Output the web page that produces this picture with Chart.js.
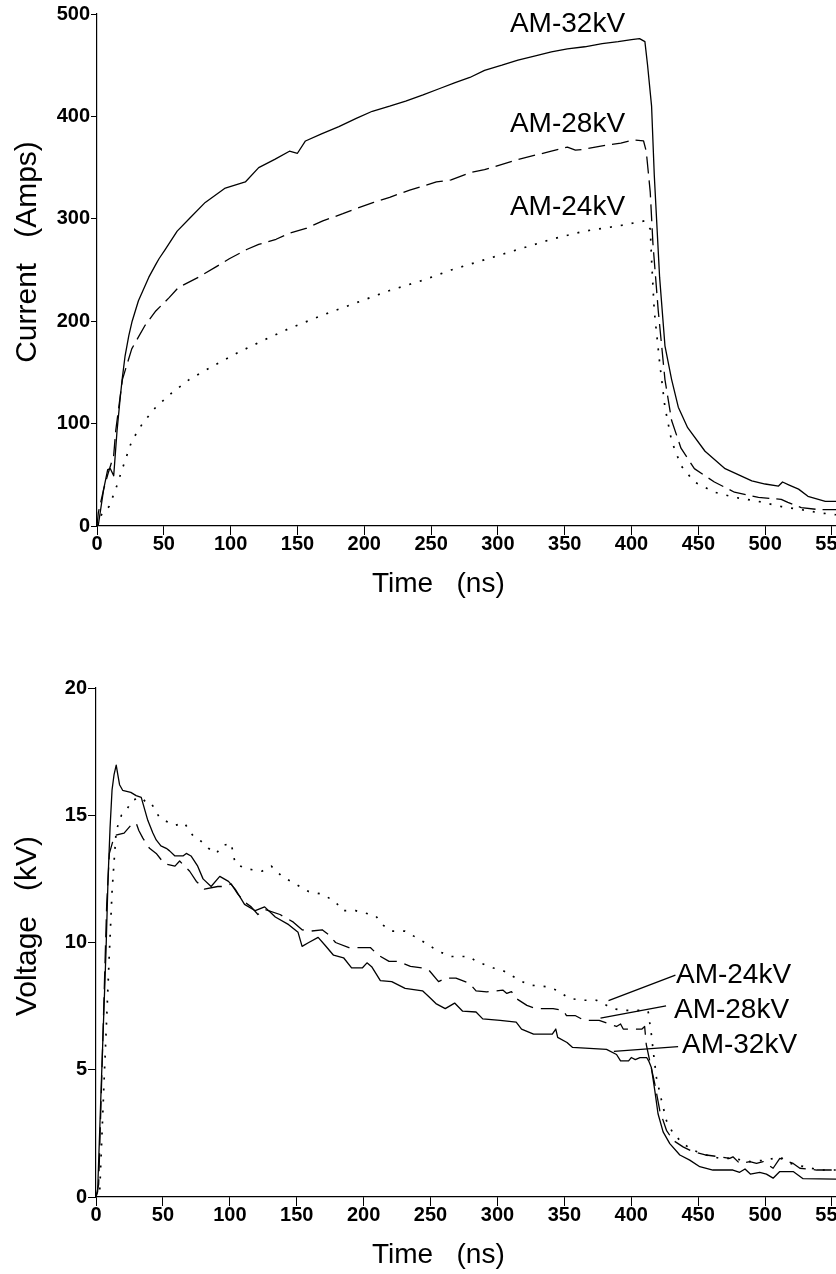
<!DOCTYPE html>
<html>
<head>
<meta charset="utf-8">
<script src="https://cdn.jsdelivr.net/npm/chart.js@4.4.1/dist/chart.umd.min.js"></script>
<style>
  html, body { margin: 0; padding: 0; background: #fff; }
  #wrap { position: relative; width: 836px; height: 1274px; overflow: hidden; background: #fff; }
  #c1 { position: absolute; left: 0; top: 0; }
  #c2 { position: absolute; left: 0; top: 640px; }
</style>
</head>
<body>
<div id="wrap">
  <canvas id="c1" width="836" height="620"></canvas>
  <canvas id="c2" width="836" height="634"></canvas>
</div>
<script>
// ---------- Top chart: Current (Amps) vs Time (ns) ----------
const seriesNames = ['AM-32kV', 'AM-28kV', 'AM-24kV'];

const t32 = [0, 1, 5, 8, 10, 12.5, 15, 17.5, 18.8, 21, 23.8, 26.3, 31, 38.8, 43.8, 46.4, 51, 60, 69, 81, 96, 111, 121, 133, 144, 150, 156, 168, 181, 194, 206, 219, 231, 244, 256, 268, 279, 290, 303, 315, 328, 340, 352, 365, 378, 390, 400, 406, 410, 412, 415, 417, 421, 425, 430, 435, 442, 455, 470, 490, 500, 510, 513, 518, 525, 532, 545, 553];
const i32 = [0, 1, 36, 55, 56, 49, 93, 127, 143, 166, 186, 200, 220, 243, 255, 261, 270, 288, 300, 316, 330, 336, 350, 358, 366, 364, 376, 383, 390, 398, 405, 410, 415, 421, 427, 433, 438, 445, 450, 455, 459, 463, 466, 468, 471, 473, 475, 476, 473, 450, 410, 343, 243, 176, 143, 116, 96, 73, 56, 44, 41, 39, 43, 40, 36, 29, 24, 24];

const t28 = [0, 1, 5, 8, 12.5, 14, 19, 26, 36, 44, 54, 61, 76, 89, 99, 112, 121, 134, 144, 157, 169, 184, 194, 207, 219, 234, 254, 265, 279, 290, 315, 340, 352, 358, 365, 377, 392, 402, 409, 411, 414, 416, 420, 425, 430, 437, 447, 462, 477, 495, 512, 517, 527, 540, 553];
const i28 = [0, 13, 36, 50, 69, 93, 143, 173, 196, 210, 223, 233, 243, 253, 261, 270, 275, 280, 286, 291, 298, 305, 310, 316, 321, 328, 336, 338, 345, 348, 358, 366, 370, 367, 368, 371, 374, 377, 376, 366, 326, 276, 210, 143, 103, 76, 56, 43, 33, 28, 26, 23, 18, 16, 16];

const t24 = [0, 4, 9, 14, 19, 26, 34, 44, 56, 69, 86.5, 106.5, 124, 144, 169, 194, 219, 244, 265, 290, 315, 340, 365, 390, 410, 414, 415, 417, 421, 425, 430, 437, 447, 462, 477, 495, 512, 527, 540, 553];
const i24 = [0, 13, 19, 36, 56, 83, 100, 116, 130, 143, 156, 170, 181, 193, 206, 218, 230, 240, 250, 260, 270, 280, 288, 293, 298, 290, 260, 210, 160, 116, 83, 59, 43, 33, 28, 24, 19, 16, 13, 11];

const currentTicks = [0, 100, 200, 300, 400, 500];
const timeTicks = [0, 50, 100, 150, 200, 250, 300, 350, 400, 450, 500, 550];

// ---------- Bottom chart: Voltage (kV) vs Time (ns) ----------
const tv32 = [0, 1.2, 4, 7.5, 9, 10.5, 12, 13.5, 15.1, 16.3, 17.6, 19.9, 26, 30, 33.8, 38.7, 42.5, 45, 48.5, 52.5, 55, 59, 65, 67.5, 71, 76, 80, 86, 92.5, 99, 104, 111, 119, 126, 134, 144, 151, 154, 159, 166, 171, 177.5, 185, 191, 199, 202.5, 206, 212.5, 221, 231, 244, 249, 254, 261, 268, 274, 284, 289, 302, 314, 318, 327, 341, 343.6, 345, 352, 356, 381.5, 389, 392, 398, 400, 403, 406.5, 411.5, 413, 415, 417.6, 420, 423.8, 428.8, 436.3, 443.7, 451.2, 461, 476, 481, 485, 489, 496, 501, 506, 511, 521, 528.4, 553];
const v32 = [0, 0.2, 4.5, 9.7, 12.5, 14.5, 16, 16.6, 16.97, 16.6, 16.2, 15.98, 15.9, 15.77, 15.7, 14.8, 14.3, 14.03, 13.8, 13.7, 13.6, 13.4, 13.4, 13.5, 13.4, 13.0, 12.5, 12.2, 12.6, 12.4, 12.1, 11.5, 11.25, 11.4, 11.0, 10.7, 10.4, 9.85, 10.0, 10.2, 9.9, 9.5, 9.4, 9.0, 9.0, 9.2, 9.05, 8.5, 8.46, 8.2, 8.1, 7.86, 7.6, 7.4, 7.62, 7.3, 7.27, 7.0, 6.94, 6.87, 6.6, 6.4, 6.4, 6.6, 6.27, 6.07, 5.88, 5.8, 5.6, 5.35, 5.35, 5.48, 5.4, 5.48, 5.48, 5.35, 5.09, 4.18, 3.27, 2.56, 2.1, 1.65, 1.45, 1.19, 1.06, 1.06, 0.97, 1.1, 0.9, 0.97, 0.9, 0.74, 1.0, 1.0, 0.72, 0.7];

const tv28 = [0, 2, 5, 8, 10, 13.8, 21, 26, 30, 32, 35, 40, 45, 51, 59, 62.5, 70, 75, 81, 91, 96, 101, 106, 111, 116, 121, 126, 137.5, 147.5, 154, 161, 169, 174, 179, 189, 205, 211, 219, 226, 235, 244, 249, 256, 261, 269, 279, 284, 292, 304, 307, 310.5, 314, 322, 329, 341.6, 349, 351.6, 358, 365, 376, 389, 392, 394, 403, 408, 410, 411.2, 413.8, 417.6, 421.3, 426.3, 431.2, 438.7, 446, 456, 466, 473.6, 476, 481, 488.6, 493.6, 498.6, 506, 511, 521, 526, 538.5, 553];
const v28 = [0, 0.5, 6, 11.5, 13.5, 14.2, 14.3, 14.6, 14.7, 14.4, 14.1, 13.7, 13.5, 13.1, 13.0, 13.2, 12.8, 12.4, 12.1, 12.2, 12.2, 12.3, 11.9, 11.6, 11.4, 11.1, 11.3, 11.1, 10.8, 10.5, 10.45, 10.5, 10.3, 10.0, 9.8, 9.8, 9.5, 9.26, 9.26, 9.06, 9.0, 8.9, 8.46, 8.6, 8.6, 8.4, 8.1, 8.06, 8.13, 8.0, 8.07, 7.8, 7.53, 7.4, 7.4, 7.33, 7.13, 7.13, 6.94, 6.94, 6.7, 6.8, 6.6, 6.6, 6.6, 6.7, 6.0, 5.35, 4.44, 3.4, 2.62, 2.23, 1.97, 1.78, 1.65, 1.58, 1.52, 1.58, 1.32, 1.39, 1.32, 1.39, 1.13, 1.52, 1.32, 1.13, 1.06, 1.06];

const tv24 = [0, 2.6, 6, 10, 12, 13.8, 15.1, 19, 22.6, 27.5, 34, 37.5, 41, 47.5, 51, 59, 66, 72.4, 78, 84, 90, 94, 101, 104, 112, 124, 131, 139, 149, 159, 169, 179, 184, 194, 209, 214, 221, 231, 244, 256, 266, 279, 284, 297, 304, 310.5, 317, 324, 337, 344, 354, 364, 374, 381.5, 386.5, 394, 409, 412.6, 415, 416.4, 418.8, 422.6, 426.3, 431.3, 438.7, 446, 456, 466, 476, 488.6, 501, 511, 518.6, 528.5, 541, 553];
const v24 = [0, 0, 4.5, 9.6, 12, 13.4, 14.4, 15.0, 15.2, 15.6, 15.7, 15.5, 15.5, 14.9, 14.8, 14.6, 14.7, 14.2, 14.0, 13.7, 13.5, 13.8, 13.9, 13.1, 12.9, 12.8, 13.0, 12.6, 12.3, 12.0, 11.9, 11.6, 11.25, 11.25, 11.05, 10.7, 10.45, 10.45, 10.05, 9.65, 9.45, 9.45, 9.26, 9.0, 8.9, 8.7, 8.5, 8.33, 8.26, 8.13, 7.8, 7.73, 7.73, 7.53, 7.4, 7.33, 7.33, 7.3, 6.4, 5.74, 4.7, 3.8, 3.0, 2.5, 2.1, 1.84, 1.65, 1.52, 1.52, 1.39, 1.45, 1.58, 1.32, 1.2, 1.06, 1.06];

const voltageTicks = [0, 5, 10, 15, 20];

// leader lines of the voltage labels (time, kV)
const ldr24T = [383, 433]; const ldr24V = [7.72, 8.72];
const ldr28T = [377, 426]; const ldr28V = [7.03, 7.51];
const ldr32T = [387, 435]; const ldr32V = [5.72, 5.91];

// label anchors (data space)
const topLabelT = [309, 309, 309];
const topLabelI = [482, 385, 303.5];
const botLabelT = [437.9, 431.9, 433.4];
const botLabelV = [5.66, 7.03, 8.39];

// ---------- helpers ----------
const FONT = "'Liberation Sans', Arial, Helvetica, sans-serif";
const pts = (xs, ys) => xs.map((x, i) => ({ x: x, y: ys[i] }));

const extraText = {
  id: 'extraText',
  afterDatasetsDraw(chart, args, opts) {
    const ctx = chart.ctx;
    const xs = chart.scales.x, ys = chart.scales.y;
    ctx.save();
    ctx.fillStyle = '#000';
    (opts.labels || []).forEach(l => {
      ctx.font = l.font;
      ctx.textAlign = 'left';
      ctx.textBaseline = 'alphabetic';
      ctx.fillText(l.text, xs.getPixelForValue(l.x), ys.getPixelForValue(l.y));
    });
    (opts.titles || []).forEach(t => {
      ctx.save();
      ctx.translate(t.px, t.py);
      ctx.rotate(t.rot || 0);
      ctx.font = t.font;
      ctx.textAlign = t.align;
      ctx.textBaseline = 'alphabetic';
      ctx.fillText(t.text, 0, 0);
      ctx.restore();
    });
    ctx.restore();
  }
};

function lineDs(label, data, dash, width) {
  return {
    label: label, data: data, borderColor: '#000', backgroundColor: '#000',
    borderWidth: width, borderDash: dash, pointRadius: 0, pointHoverRadius: 0,
    fill: false, tension: 0, borderCapStyle: 'butt', borderJoinStyle: 'round'
  };
}

function makeOptions(cfg) {
  return {
    responsive: false,
    animation: false,
    events: [],
    layout: { padding: { left: 0, right: 0, top: cfg.padTop, bottom: 0 } },
    plugins: {
      legend: { display: false },
      tooltip: { enabled: false },
      extraText: { labels: cfg.labels, titles: cfg.titles }
    },
    scales: {
      x: {
        type: 'linear', position: 'bottom', min: 0, max: 553,
        afterFit: s => { s.height = cfg.xHeight; s.paddingLeft = 0; s.paddingRight = 0; },
        afterBuildTicks: s => { s.ticks = timeTicks.map(v => ({ value: v })); },
        ticks: { color: '#000', font: { family: FONT, size: 20, weight: 'bold' }, padding: -3, maxRotation: 0, autoSkip: false, includeBounds: false },
        grid: { display: true, drawOnChartArea: false, drawTicks: true, tickLength: 9, color: '#000', lineWidth: 1 },
        border: { display: true, color: '#000', width: 1.2 }
      },
      y: {
        type: 'linear', position: 'left', min: cfg.yMin, max: cfg.yMax,
        afterFit: s => { s.width = cfg.yWidth; s.paddingTop = 0; s.paddingBottom = 0; },
        afterBuildTicks: s => { s.ticks = cfg.yTicks.map(v => ({ value: v })); },
        ticks: { color: '#000', font: { family: FONT, size: 20, weight: 'bold' }, padding: 1, autoSkip: false, includeBounds: false },
        grid: { display: true, drawOnChartArea: false, drawTicks: true, tickLength: cfg.yTick, color: '#000', lineWidth: 1 },
        border: { display: true, color: '#000', width: 1.2 }
      }
    }
  };
}

// ---------- top chart ----------
new Chart(document.getElementById('c1'), {
  type: 'line',
  data: {
    datasets: [
      lineDs(seriesNames[0], pts(t32, i32), [], 1.3),
      lineDs(seriesNames[1], pts(t28, i28), [17, 7], 1.3),
      lineDs(seriesNames[2], pts(t24, i24), [2, 9], 1.7)
    ]
  },
  options: makeOptions({
    padTop: 14, xHeight: 94, yWidth: 97, yMin: 0, yMax: 500, yTicks: currentTicks, yTick: 6,
    labels: seriesNames.map((n, k) => ({ text: n, x: topLabelT[k], y: topLabelI[k], font: '28px ' + FONT })),
    titles: [
      { text: 'Time   (ns)', px: 372, py: 592, rot: 0, align: 'left', font: '28px ' + FONT },
      { text: 'Current   (Amps)', px: 36, py: 252, rot: -Math.PI / 2, align: 'center', font: '30px ' + FONT }
    ]
  }),
  plugins: [extraText]
});

// ---------- bottom chart ----------
new Chart(document.getElementById('c2'), {
  type: 'line',
  data: {
    datasets: [
      lineDs(seriesNames[0], pts(tv32, v32), [], 1.3),
      lineDs(seriesNames[1], pts(tv28, v28), [18, 8], 1.3),
      lineDs(seriesNames[2], pts(tv24, v24), [2, 9], 1.7),
      lineDs('leader-24', pts(ldr24T, ldr24V), [], 1.3),
      lineDs('leader-28', pts(ldr28T, ldr28V), [], 1.3),
      lineDs('leader-32', pts(ldr32T, ldr32V), [], 1.3)
    ]
  },
  options: makeOptions({
    padTop: 48, xHeight: 77, yWidth: 96, yMin: 0, yMax: 20, yTicks: voltageTicks, yTick: 8,
    labels: seriesNames.map((n, k) => ({ text: n, x: botLabelT[k], y: botLabelV[k], font: '28px ' + FONT })),
    titles: [
      { text: 'Time   (ns)', px: 372, py: 623, rot: 0, align: 'left', font: '28px ' + FONT },
      { text: 'Voltage   (kV)', px: 36, py: 286, rot: -Math.PI / 2, align: 'center', font: '30px ' + FONT }
    ]
  }),
  plugins: [extraText]
});
</script>
</body>
</html>
